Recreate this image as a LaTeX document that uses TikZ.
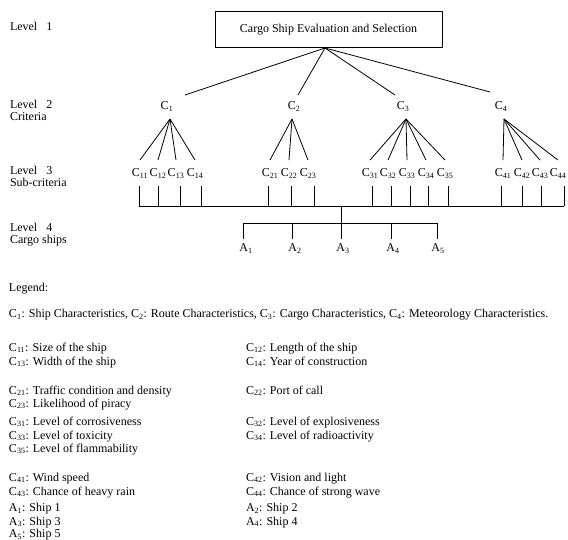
\documentclass[tikz,border=0pt]{standalone}
\usepackage{fontspec}
\setmainfont{Liberation Serif}
\newcommand{\Cs}[1]{C\textsubscript{#1}}
\newcommand{\As}[1]{A\textsubscript{#1}}
\begin{document}
\begin{tikzpicture}[x=1pt,y=-1pt,
  every node/.style={font=\fontsize{12}{14}\selectfont, inner sep=0pt, outer sep=0pt},
  ln/.style={line width=0.8pt},
  lbl/.style={anchor=base west},
  crit/.style={anchor=base},
  titlebox/.style={draw, line width=1pt, minimum width=227pt, minimum height=36pt}]
\useasboundingbox (0,0) rectangle (568,540);

% level labels
\node[lbl] (lv1) at (10,31) {Level\ \ \ 1};
\node[lbl] (lv2) at (10,109) {Level\ \ \ 2};
\node[lbl] (lv2b) at (10,121) {Criteria};
\node[lbl] (lv3) at (10,175) {Level\ \ \ 3};
\node[lbl] (lv3b) at (10,187) {Sub-criteria};
\node[lbl] (lv4) at (10,232) {Level\ \ \ 4};
\node[lbl] (lv4b) at (10,244) {Cargo ships};

% goal
\node[titlebox] (goal) at (328.5,30) {\raisebox{1pt}{Cargo Ship Evaluation and Selection}};
\coordinate (ap0) at ([xshift=-3.5pt]goal.south);

% criteria
\node[crit] (c1) at (167,109.5) {\Cs{1}};
\node[crit] (c2) at (294,109.5) {\Cs{2}};
\node[crit] (c3) at (403,109.5) {\Cs{3}};
\node[crit] (c4) at (501,109.5) {\Cs{4}};
\coordinate (e1) at (185,95);
\coordinate (e2) at (298,95);
\coordinate (e3) at (395,95);
\coordinate (e4) at (490,92);
\foreach \i in {1,...,4} \draw[ln] (ap0) -- (e\i);

\coordinate (f1) at (170,119);
\coordinate (f2) at (292,119);
\coordinate (f3) at (406,119);
\coordinate (f4) at (504,119);

% sub-criteria labels
\foreach \n/\x/\p in {11/140/1,12/158/1,13/176/1,14/195/1,
                      21/270/2,22/289/2,23/308/2,
                      31/370/3,32/388/3,33/407/3,34/426/3,35/445/3,
                      41/503/4,42/522/4,43/540/4,44/558/4}{
  \node[crit] (c\n) at (\x,177) {\Cs{\n}};
  \draw[ln] (f\p) -- ([yshift=9pt]c\n.north);
}

% base line with ticks
\coordinate (bl) at (139,206);
\coordinate (br) at (564,206);
\draw[ln] (bl) -- (br);
\foreach \n/\x in {11/139,12/158,13/180,14/201,21/268,22/291,23/314,
                   31/372,32/391,33/410,34/428,35/448,41/501,42/522,43/541,44/564}{
  \coordinate (t\n) at (\x,186);
  \draw[ln] (t\n) -- (t\n |- bl);
}

% alternatives
\coordinate (stem) at (341,206);
\coordinate (al) at (243,223);
\coordinate (ar) at (437,223);
\draw[ln] (stem) -- (stem |- al);
\draw[ln] (al) -- (ar);
\foreach \n/\x/\tx in {1/246/243,2/295/292,3/343/341,4/393/391,5/438/437}{
  \node[crit] (a\n) at (\x,252) {\As{\n}};
  \coordinate (ta\n) at (\tx,223);
  \draw[ln] (ta\n) -- ++(0,16);
}

% legend
\node[lbl] (lg) at (9,292) {Legend:};
\node[lbl] (lgc) at (9,318) {\Cs{1}: Ship Characteristics, \Cs{2}: Route Characteristics, \Cs{3}: Cargo Characteristics, \Cs{4}: Meteorology Characteristics.};
\node[lbl] (l11) at (9,351) {\Cs{11}: Size of the ship};
\node[lbl] (l12) at (246,351) {\Cs{12}: Length of the ship};
\node[lbl] (l13) at (9,365) {\Cs{13}: Width of the ship};
\node[lbl] (l14) at (246,365) {\Cs{14}: Year of construction};
\node[lbl] (l21) at (9,394) {\Cs{21}: Traffic condition and density};
\node[lbl] (l22) at (246,394) {\Cs{22}: Port of call};
\node[lbl] (l23) at (9,407) {\Cs{23}: Likelihood of piracy};
\node[lbl] (l31) at (9,425) {\Cs{31}: Level of corrosiveness};
\node[lbl] (l32) at (246,425) {\Cs{32}: Level of explosiveness};
\node[lbl] (l33) at (9,439) {\Cs{33}: Level of toxicity};
\node[lbl] (l34) at (246,439) {\Cs{34}: Level of radioactivity};
\node[lbl] (l35) at (9,452) {\Cs{35}: Level of flammability};
\node[lbl] (l41) at (9,481) {\Cs{41}: Wind speed};
\node[lbl] (l42) at (246,481) {\Cs{42}: Vision and light};
\node[lbl] (l43) at (9,495) {\Cs{43}: Chance of heavy rain};
\node[lbl] (l44) at (246,495) {\Cs{44}: Chance of strong wave};
\node[lbl] (la1) at (9,511.5) {\As{1}: Ship 1};
\node[lbl] (la2) at (246,511.5) {\As{2}: Ship 2};
\node[lbl] (la3) at (9,525) {\As{3}: Ship 3};
\node[lbl] (la4) at (246,525) {\As{4}: Ship 4};
\node[lbl] (la5) at (9,537.5) {\As{5}: Ship 5};
\end{tikzpicture}
\end{document}
